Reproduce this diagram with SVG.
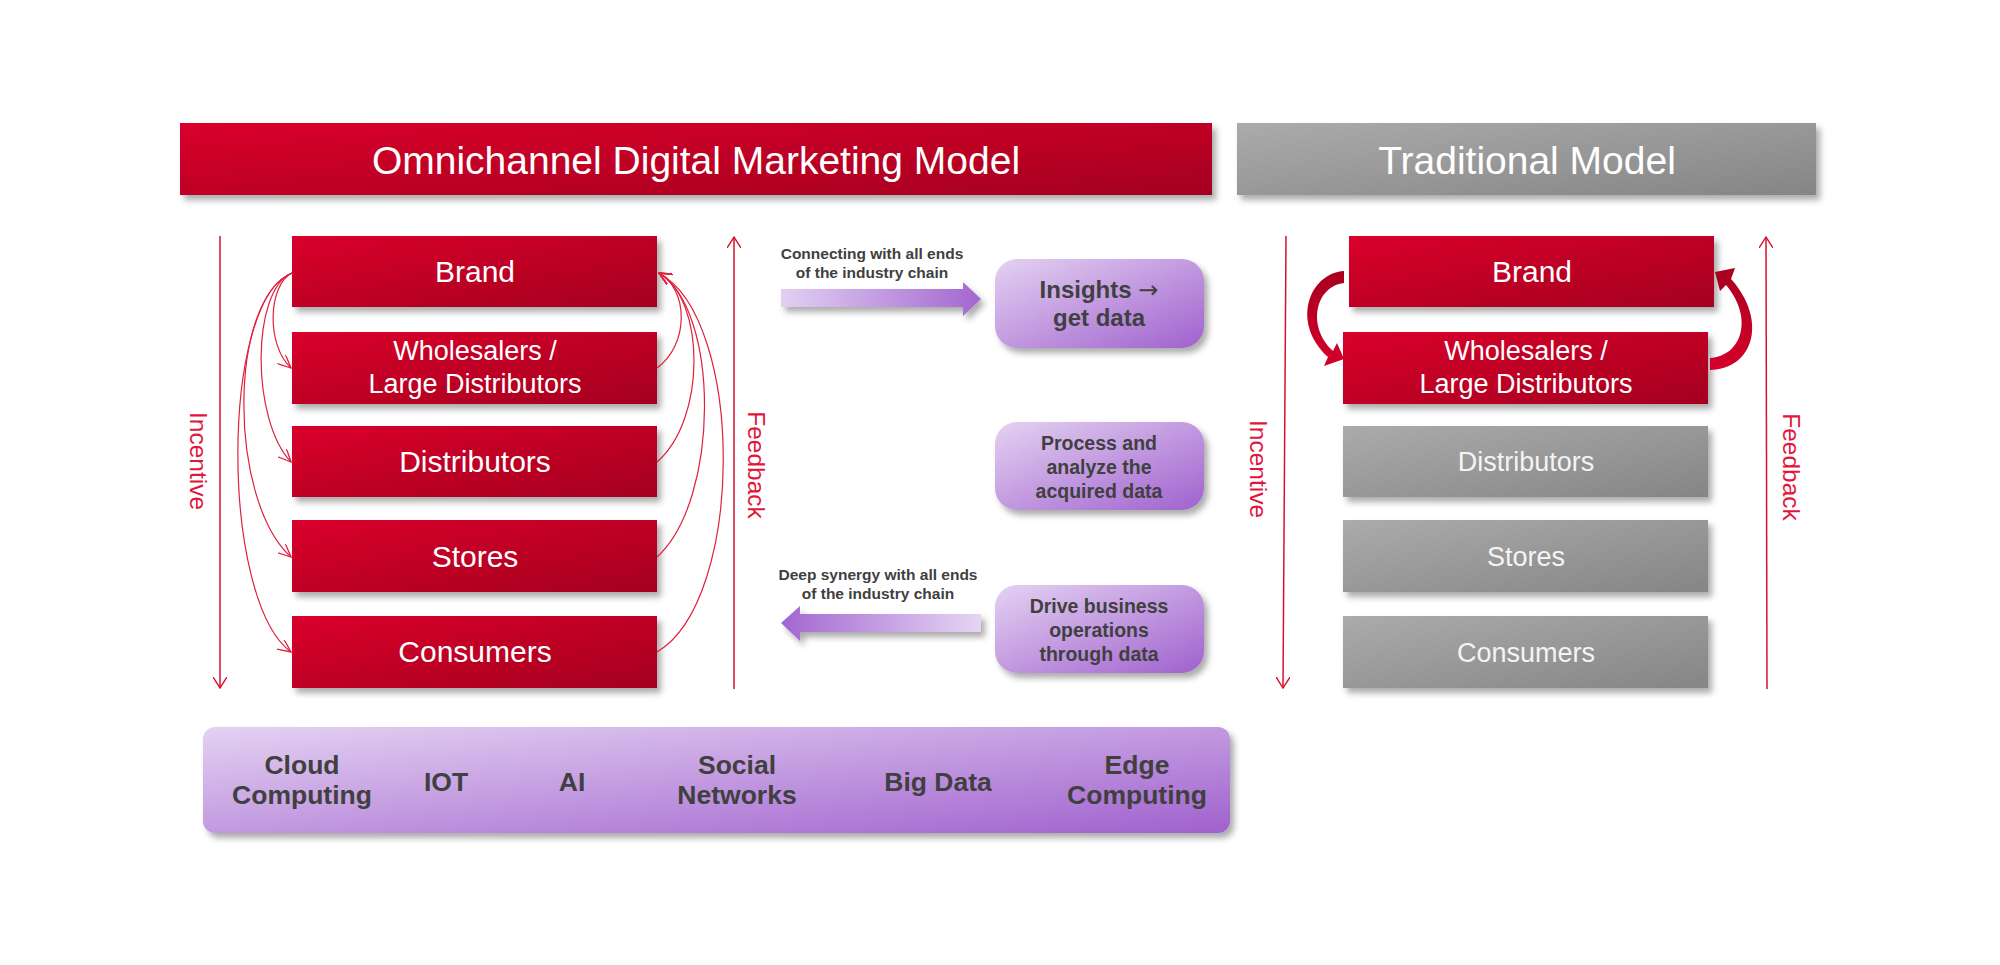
<svg xmlns="http://www.w3.org/2000/svg" width="2000" height="965" viewBox="0 0 2000 965">
  <defs>
    <linearGradient id="gRed" x1="0" y1="0" x2="1" y2="1">
      <stop offset="0" stop-color="#da002b"/>
      <stop offset="1" stop-color="#a4001f"/>
    </linearGradient>
    <linearGradient id="gGray" x1="0" y1="0" x2="1" y2="1">
      <stop offset="0" stop-color="#ababab"/>
      <stop offset="1" stop-color="#858585"/>
    </linearGradient>
    <linearGradient id="gPurple" x1="0" y1="0" x2="1" y2="1">
      <stop offset="0" stop-color="#e4d2f2"/>
      <stop offset="1" stop-color="#a061ce"/>
    </linearGradient>
    <linearGradient id="gArrowR" x1="0" y1="0" x2="1" y2="0">
      <stop offset="0" stop-color="#e2d0f2"/>
      <stop offset="1" stop-color="#a266d0"/>
    </linearGradient>
    <linearGradient id="gArrowL" x1="0" y1="0" x2="1" y2="0">
      <stop offset="0" stop-color="#a266d0"/>
      <stop offset="1" stop-color="#e6d6f4"/>
    </linearGradient>
    <linearGradient id="gCurve" x1="0" y1="0" x2="0" y2="1">
      <stop offset="0" stop-color="#a8001f"/>
      <stop offset="1" stop-color="#d4002a"/>
    </linearGradient>
    <filter id="sh" x="-5%" y="-15%" width="115%" height="150%">
      <feDropShadow dx="4" dy="5" stdDeviation="3" flood-color="#000" flood-opacity="0.33"/>
    </filter>
    <marker id="vArrow" viewBox="0 0 12 14" markerWidth="12" markerHeight="14" refX="11" refY="7" orient="auto" markerUnits="userSpaceOnUse">
      <path d="M0,0 L11,7 L0,14" fill="none" stroke="#d8102f" stroke-width="1.4"/>
    </marker>
    <marker id="vSmall" viewBox="0 0 14 12" markerWidth="14" markerHeight="12" refX="13" refY="6" orient="auto" markerUnits="userSpaceOnUse">
      <path d="M0,0 L13,6 L0,12" fill="none" stroke="#e0203c" stroke-width="1.3"/>
    </marker>
    <style>
      .hdr { font-family: "Liberation Sans", Arial, sans-serif; font-size: 39px; fill: #ffffff; text-anchor: middle; }
      .box { font-family: "Liberation Sans", Arial, sans-serif; fill: #ffffff; text-anchor: middle; }
      .b30 { font-size: 30px; }
      .b27 { font-size: 27px; }
      .gtx { fill: #f4f4f4; }
      .ptx { font-family: "Liberation Sans", Arial, sans-serif; font-weight: bold; fill: #404040; text-anchor: middle; }
      .arw { font-family: "DejaVu Sans", sans-serif; font-weight: normal; }
      .side { font-family: "Liberation Sans", Arial, sans-serif; font-size: 24.5px; fill: #e2153c; text-anchor: middle; }
      .thin { fill: none; stroke: #e0203c; stroke-width: 1.2; }
      .axis { fill: none; stroke: #d8102f; stroke-width: 1.5; }
    </style>
  </defs>

  <rect width="2000" height="965" fill="#ffffff"/>

  <!-- Headers -->
  <g id="header-omni">
    <rect x="180" y="123" width="1032" height="72" fill="url(#gRed)" filter="url(#sh)"/>
    <text class="hdr" x="696" y="174">Omnichannel Digital Marketing Model</text>
  </g>
  <g id="header-traditional">
    <rect x="1237" y="123" width="579" height="72" fill="url(#gGray)" filter="url(#sh)"/>
    <text class="hdr" x="1527" y="174">Traditional Model</text>
  </g>

  <!-- Omnichannel chain -->
  <g id="omni-brand">
    <rect x="292" y="236" width="365" height="71" fill="url(#gRed)" filter="url(#sh)"/>
    <text class="box b30" x="475" y="282">Brand</text>
  </g>
  <g id="omni-wholesalers">
    <rect x="292" y="332" width="365" height="72" fill="url(#gRed)" filter="url(#sh)"/>
    <text class="box b27" x="475" y="360">Wholesalers /</text>
    <text class="box b27" x="475" y="393">Large Distributors</text>
  </g>
  <g id="omni-distributors">
    <rect x="292" y="426" width="365" height="71" fill="url(#gRed)" filter="url(#sh)"/>
    <text class="box b30" x="475" y="472">Distributors</text>
  </g>
  <g id="omni-stores">
    <rect x="292" y="520" width="365" height="72" fill="url(#gRed)" filter="url(#sh)"/>
    <text class="box b30" x="475" y="567">Stores</text>
  </g>
  <g id="omni-consumers">
    <rect x="292" y="616" width="365" height="72" fill="url(#gRed)" filter="url(#sh)"/>
    <text class="box b30" x="475" y="662">Consumers</text>
  </g>

  <!-- Side labels -->
  <g id="omni-incentive-label">
    <text class="side" transform="translate(190,461) rotate(90)">Incentive</text>
  </g>
  <g id="omni-feedback-label">
    <text class="side" transform="translate(748,465) rotate(90)">Feedback</text>
  </g>
  <g id="trad-incentive-label">
    <text class="side" transform="translate(1250,469) rotate(90)">Incentive</text>
  </g>
  <g id="trad-feedback-label">
    <text class="side" transform="translate(1783,467) rotate(90)">Feedback</text>
  </g>

  <!-- Process boxes -->
  <g id="insights">
    <rect x="995" y="259" width="209" height="89" rx="22" fill="url(#gPurple)" filter="url(#sh)"/>
    <text class="ptx" font-size="24" x="1099" y="298">Insights <tspan class="arw">→</tspan></text>
    <text class="ptx" font-size="24" x="1099" y="326">get data</text>
  </g>
  <g id="process">
    <rect x="995" y="422" width="209" height="88" rx="22" fill="url(#gPurple)" filter="url(#sh)"/>
    <text class="ptx" font-size="19.5" x="1099" y="450">Process and</text>
    <text class="ptx" font-size="19.5" x="1099" y="474">analyze the</text>
    <text class="ptx" font-size="19.5" x="1099" y="498">acquired data</text>
  </g>
  <g id="drive">
    <rect x="995" y="585" width="209" height="88" rx="22" fill="url(#gPurple)" filter="url(#sh)"/>
    <text class="ptx" font-size="19.5" x="1099" y="613">Drive business</text>
    <text class="ptx" font-size="19.5" x="1099" y="637">operations</text>
    <text class="ptx" font-size="19.5" x="1099" y="661">through data</text>
  </g>

  <!-- Technology bar -->
  <g id="tech-bar">
    <rect x="203" y="727" width="1027" height="106" rx="12" fill="url(#gPurple)" filter="url(#sh)"/>
    <text class="ptx" font-size="26.5" x="302" y="774">Cloud</text>
    <text class="ptx" font-size="26.5" x="302" y="804">Computing</text>
    <text class="ptx" font-size="26.5" x="446" y="791">IOT</text>
    <text class="ptx" font-size="26.5" x="572" y="791">AI</text>
    <text class="ptx" font-size="26.5" x="737" y="774">Social</text>
    <text class="ptx" font-size="26.5" x="737" y="804">Networks</text>
    <text class="ptx" font-size="26.5" x="938" y="791">Big Data</text>
    <text class="ptx" font-size="26.5" x="1137" y="774">Edge</text>
    <text class="ptx" font-size="26.5" x="1137" y="804">Computing</text>
  </g>

  <!-- Traditional chain -->
  <g id="trad-brand">
    <rect x="1349" y="236" width="365" height="71" fill="url(#gRed)" filter="url(#sh)"/>
    <text class="box b30" x="1532" y="282">Brand</text>
  </g>
  <g id="trad-wholesalers">
    <rect x="1343" y="332" width="365" height="72" fill="url(#gRed)" filter="url(#sh)"/>
    <text class="box b27" x="1526" y="360">Wholesalers /</text>
    <text class="box b27" x="1526" y="393">Large Distributors</text>
  </g>
  <g id="trad-distributors">
    <rect x="1343" y="426" width="365" height="71" fill="url(#gGray)" filter="url(#sh)"/>
    <text class="box b27 gtx" x="1526" y="471">Distributors</text>
  </g>
  <g id="trad-stores">
    <rect x="1343" y="520" width="365" height="72" fill="url(#gGray)" filter="url(#sh)"/>
    <text class="box b27 gtx" x="1526" y="566">Stores</text>
  </g>
  <g id="trad-consumers">
    <rect x="1343" y="616" width="365" height="72" fill="url(#gGray)" filter="url(#sh)"/>
    <text class="box b27 gtx" x="1526" y="662">Consumers</text>
  </g>

  <!-- Connectors -->
  <g id="connectors">
    <!-- axis arrows -->
    <line class="axis" x1="220" y1="236" x2="220" y2="688" marker-end="url(#vArrow)"/>
    <line class="axis" x1="734" y1="689" x2="734" y2="237" marker-end="url(#vArrow)"/>
    <line class="axis" x1="1286" y1="236" x2="1283" y2="688" marker-end="url(#vArrow)"/>
    <line class="axis" x1="1767" y1="689" x2="1766" y2="237" marker-end="url(#vArrow)"/>

    <!-- Brand to each tier (left) -->
    <path class="thin" d="M292 273 C268 285 266 345 291 368" marker-end="url(#vSmall)"/>
    <path class="thin" d="M292 273 C251 290 251 420 291 462" marker-end="url(#vSmall)"/>
    <path class="thin" d="M292 273 C228 300 228 500 291 557" marker-end="url(#vSmall)"/>
    <path class="thin" d="M292 273 C220 300 220 600 291 652" marker-end="url(#vSmall)"/>

    <!-- Each tier back to Brand (right) -->
    <path class="thin" d="M657 368 C689 345 689 290 659 273" marker-end="url(#vSmall)"/>
    <path class="thin" d="M657 462 C706 420 706 300 659 273" marker-end="url(#vSmall)"/>
    <path class="thin" d="M657 557 C720 500 720 310 659 273" marker-end="url(#vSmall)"/>
    <path class="thin" d="M657 652 C745 600 745 320 659 273" marker-end="url(#vSmall)"/>

    <!-- Block arrows -->
    <path d="M781 289 L963 289 L963 282 L981 299 L963 316 L963 307 L781 307 Z" fill="url(#gArrowR)" filter="url(#sh)"/>
    <path d="M981 614 L800 614 L800 606 L781 623 L800 641 L800 632 L981 632 Z" fill="url(#gArrowL)" filter="url(#sh)"/>

    <!-- Traditional curved arrows -->
    <path d="M1344 271 C1310 273 1290 322 1328 357 L1324 366 L1344 359 L1337 343 L1333 351 C1306 326 1316 286 1344 283 Z" fill="url(#gCurve)"/>
    <path d="M1710 358 C1742 356 1754 318 1726 285 L1720 291 L1715 272 L1735 268 L1731 279 C1768 320 1754 369 1710 370 Z" fill="url(#gCurve)"/>

    <!-- Text labels on connectors -->
    <text class="ptx" font-size="15.5" x="872" y="259">Connecting with all ends</text>
    <text class="ptx" font-size="15.5" x="872" y="278">of the industry chain</text>
    <text class="ptx" font-size="15.5" x="878" y="580">Deep synergy with all ends</text>
    <text class="ptx" font-size="15.5" x="878" y="599">of the industry chain</text>
  </g>
</svg>
